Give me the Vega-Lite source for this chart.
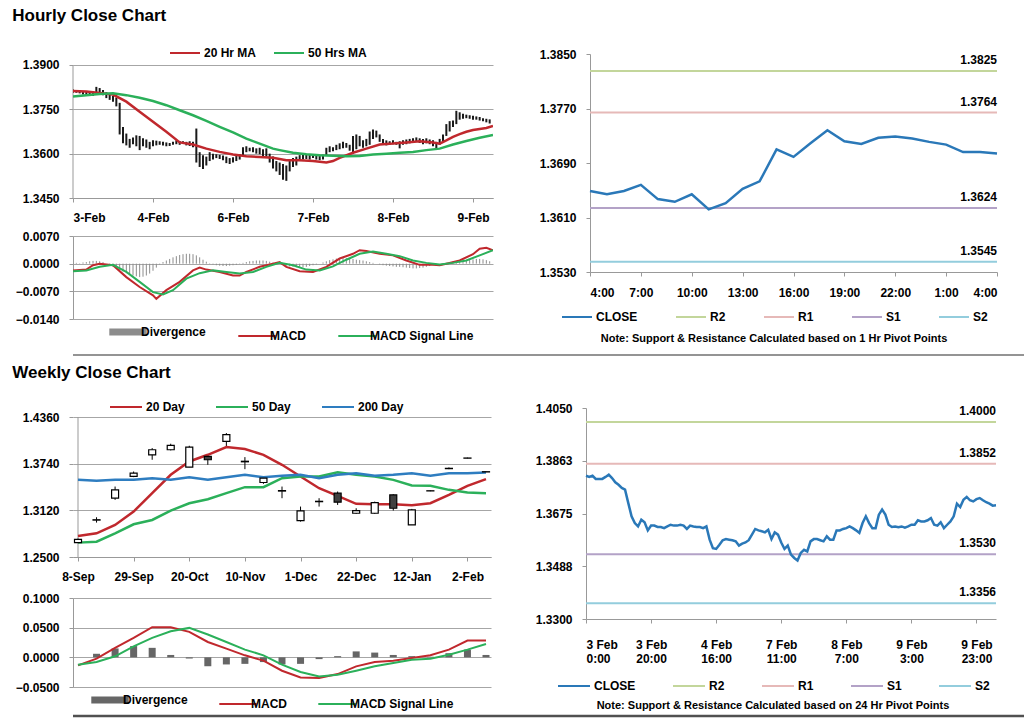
{
"$schema": "https://vega.github.io/schema/vega-lite/v6.json",
"background": "white",
"padding": {"left": 12, "top": 7, "right": 0, "bottom": 0},
"config": {
  "font": "Liberation Sans",
  "view": {"stroke": null},
  "axis": {"labelFont": "Liberation Sans", "labelFontSize": 12, "labelFontWeight": "bold", "labelColor": "#000000", "domainColor": "#999999", "tickColor": "#999999", "gridColor": "#a6a6a6", "tickSize": 4, "labelPadding": 10, "title": null},
  "legend": {"labelFont": "Liberation Sans", "labelFontSize": 12, "labelFontWeight": "bold", "labelColor": "#000000", "symbolType": "stroke", "symbolStrokeWidth": 2, "labelOffset": 3},
  "title": {"font": "Liberation Sans", "fontSize": 17, "fontWeight": "bold", "anchor": "start", "color": "#000000"}
},
"resolve": {"scale": {"color": "independent", "x": "independent", "y": "independent"}, "legend": {"color": "independent"}},
"spacing": 8,
"vconcat": [
 {
  "title": {"text": "Hourly Close Chart", "offset": 12, "dx": -3},
  "resolve": {"scale": {"color": "independent", "x": "independent", "y": "independent"}, "legend": {"color": "independent"}},
  "spacing": 46,
  "hconcat": [
   {
    "spacing": 7,
    "resolve": {"scale": {"color": "independent", "x": "independent", "y": "independent"}, "legend": {"color": "independent"}},
    "vconcat": [
     {
      "width": 420, "height": 144,
      "layer": [
       {"data": {"name": "hbars"}, "mark": {"type": "rule", "color": "#1a1a1a", "strokeWidth": 2, "clip": true},
        "encoding": {
         "x": {"field": "i", "type": "quantitative", "scale": {"domain": [0, 126], "nice": false, "zero": false},
               "axis": {"values": [0, 24, 48, 72, 96, 120], "labelExpr": "['3-Feb','4-Feb','6-Feb','7-Feb','8-Feb','9-Feb'][datum.value/24]", "grid": false}},
         "y": {"field": "lo", "type": "quantitative", "scale": {"domain": [1.345, 1.39372], "nice": false, "zero": false},
               "axis": {"values": [1.345, 1.36, 1.375, 1.39], "format": ".4f", "grid": true, "domain": false}},
         "y2": {"field": "hi"}
        }},
       {"data": {"values": [{}]}, "mark": {"type": "rule", "color": "#999999", "strokeWidth": 1},
        "encoding": {"x": {"datum": 0, "type": "quantitative"}, "y": {"datum": 1.345, "type": "quantitative"}, "y2": {"datum": 1.39}}},
       {"data": {"name": "hma"}, "mark": {"type": "line", "strokeWidth": 2.5, "clip": true},
        "encoding": {
         "x": {"field": "i", "type": "quantitative"},
         "y": {"field": "v", "type": "quantitative"},
         "color": {"field": "s", "type": "nominal", "scale": {"domain": ["20 Hr MA", "50 Hrs MA"], "range": ["#c0282d", "#2bb05a"]},
                   "legend": {"orient": "none", "legendX": 96, "legendY": -17, "direction": "horizontal", "title": null, "symbolSize": 900, "columnPadding": 13}}
        }}
      ]
     },
     {
      "width": 420, "height": 83,
      "layer": [
       {"data": {"name": "hbars"}, "mark": {"type": "rule", "strokeWidth": 1, "clip": true},
        "encoding": {
         "x": {"field": "i", "type": "quantitative", "scale": {"domain": [0, 126], "nice": false, "zero": false}, "axis": null},
         "y": {"field": "d", "type": "quantitative", "scale": {"domain": [-0.014, 0.007], "nice": false, "zero": false},
               "axis": {"values": [-0.014, -0.007, 0, 0.007], "format": ".4f", "grid": true, "labelOverlap": false}},
         "y2": {"datum": 0},
         "color": {"datum": "Divergence"}
        }},
       {"data": {"name": "hmacd"}, "mark": {"type": "line", "strokeWidth": 2, "clip": true},
        "encoding": {
         "x": {"field": "i", "type": "quantitative", "axis": null},
         "y": {"field": "v", "type": "quantitative", "axis": {"values": [-0.014, -0.007, 0, 0.007], "format": ".4f", "grid": true, "labelOverlap": false}},
         "color": {"field": "s", "type": "nominal", "scale": {"domain": ["Divergence", "MACD", "MACD Signal Line"], "range": ["#8c8c8c", "#c0282d", "#2bb05a"]},
                   "legend": {"orient": "none", "legendX": 49, "legendY": 90, "direction": "horizontal", "title": null, "symbolSize": 1400, "columnPadding": 28, "labelOffset": 7,
                              "encode": {"symbols": {"update": {"strokeWidth": {"signal": "datum.label === 'Divergence' ? 7 : 2"}}}}}}
        }}
      ]
     }
    ]
   },
   {
    "width": 407, "height": 218,
    "layer": [
     {"data": {"name": "hpv"}, "mark": {"type": "rule", "strokeWidth": 2},
      "encoding": {
       "y": {"field": "v", "type": "quantitative", "scale": {"domain": [1.353, 1.385], "nice": false, "zero": false},
             "axis": {"values": [1.353, 1.361, 1.369, 1.377, 1.385], "format": ".4f", "grid": false}},
       "color": {"field": "name", "type": "nominal", "scale": {"domain": ["CLOSE", "R2", "R1", "S1", "S2"], "range": ["#2a78b8", "#c3d69b", "#e6b9b8", "#b3a2c7", "#93cddd"]},
                 "legend": {"orient": "none", "legendX": -29, "legendY": 247, "direction": "horizontal", "symbolSize": 900, "columnPadding": 34,
                            "title": "Note: Support & Resistance Calculated based on 1 Hr Pivot Points", "titleOrient": "bottom", "titleAnchor": "middle", "titleLimit": 1000,
                            "titleFontSize": 11, "titleFontWeight": "bold", "titleFont": "Liberation Sans", "titleColor": "#000000", "titlePadding": 10}}
      }},
     {"data": {"name": "hclose"}, "mark": {"type": "line", "strokeWidth": 2.5},
      "encoding": {
       "x": {"field": "t", "type": "temporal",
             "scale": {"domain": [{"year": 2014, "month": 2, "date": 9, "hours": 4}, {"year": 2014, "month": 2, "date": 10, "hours": 4}], "nice": false},
             "axis": {"values": [{"year": 2014, "month": 2, "date": 9, "hours": 4}, {"year": 2014, "month": 2, "date": 9, "hours": 7}, {"year": 2014, "month": 2, "date": 9, "hours": 10}, {"year": 2014, "month": 2, "date": 9, "hours": 13}, {"year": 2014, "month": 2, "date": 9, "hours": 16}, {"year": 2014, "month": 2, "date": 9, "hours": 19}, {"year": 2014, "month": 2, "date": 9, "hours": 22}, {"year": 2014, "month": 2, "date": 10, "hours": 1}, {"year": 2014, "month": 2, "date": 10, "hours": 4}],
                      "format": "%-H:%M", "grid": false, "labelPadding": 11}},
       "y": {"field": "v", "type": "quantitative"},
       "color": {"datum": "CLOSE"}
      }},
     {"data": {"name": "hpv"}, "mark": {"type": "text", "align": "right", "baseline": "bottom", "dy": -4, "fontWeight": "bold", "fontSize": 12, "font": "Liberation Sans", "color": "#000000"},
      "encoding": {
       "x": {"datum": {"year": 2014, "month": 2, "date": 10, "hours": 4}, "type": "temporal"},
       "y": {"field": "v", "type": "quantitative"},
       "text": {"field": "v", "type": "quantitative", "format": ".4f"}
      }}
    ]
   }
  ]
 },
 {
  "width": 1012, "height": 1,
  "data": {"values": [{}]},
  "mark": {"type": "rule", "color": "#707070", "strokeWidth": 1.5},
  "encoding": {"y": {"datum": 0, "type": "quantitative", "scale": {"domain": [0, 1]}, "axis": null}}
 },
 {
  "spacing": 0,
  "resolve": {"scale": {"color": "independent", "x": "independent", "y": "independent"}, "legend": {"color": "independent"}},
  "vconcat": [
   {
    "title": {"text": "Weekly Close Chart", "offset": 8, "dx": -3},
    "resolve": {"scale": {"color": "independent", "x": "independent", "y": "independent"}, "legend": {"color": "independent"}},
    "spacing": 44,
    "hconcat": [
     {
      "spacing": 10,
      "resolve": {"scale": {"color": "independent", "x": "independent", "y": "independent"}, "legend": {"color": "independent"}},
      "vconcat": [
       {
        "width": 418, "height": 149,
        "layer": [
         {"data": {"name": "wk"}, "mark": {"type": "rule", "color": "#000000", "strokeWidth": 1, "clip": true},
          "encoding": {
           "x": {"field": "d", "type": "temporal",
                 "scale": {"domain": [{"year": 2013, "month": 9, "date": 8}, {"year": 2014, "month": 2, "date": 9}], "nice": false},
                 "axis": {"values": [{"year": 2013, "month": 9, "date": 8}, {"year": 2013, "month": 9, "date": 29}, {"year": 2013, "month": 10, "date": 20}, {"year": 2013, "month": 11, "date": 10}, {"year": 2013, "month": 12, "date": 1}, {"year": 2013, "month": 12, "date": 22}, {"year": 2014, "month": 1, "date": 12}, {"year": 2014, "month": 2, "date": 2}],
                          "format": "%-d-%b", "grid": false, "labelPadding": 10}},
           "y": {"field": "l", "type": "quantitative", "scale": {"domain": [1.25, 1.44796], "nice": false, "zero": false},
                 "axis": {"values": [1.25, 1.312, 1.374, 1.436], "format": ".4f", "grid": true, "domain": false}},
           "y2": {"field": "h"}
          }},
         {"data": {"values": [{}]}, "mark": {"type": "rule", "color": "#999999", "strokeWidth": 1},
          "encoding": {"x": {"datum": {"year": 2013, "month": 9, "date": 8}, "type": "temporal"}, "y": {"datum": 1.25, "type": "quantitative"}, "y2": {"datum": 1.436}}},
         {"data": {"name": "wma"}, "mark": {"type": "line", "strokeWidth": 2.5, "clip": true},
          "encoding": {
           "x": {"field": "d", "type": "temporal"},
           "y": {"field": "v", "type": "quantitative"},
           "color": {"field": "s", "type": "nominal", "scale": {"domain": ["20 Day", "50 Day", "200 Day"], "range": ["#c0282d", "#2bb05a", "#2e7dc0"]},
                     "legend": {"orient": "none", "legendX": 36, "legendY": -18, "direction": "horizontal", "title": null, "symbolSize": 1024, "columnPadding": 27}}
          }},
         {"data": {"name": "wk"}, "mark": {"type": "bar", "size": 7, "stroke": "#000000", "strokeWidth": 1.2, "clip": true},
          "encoding": {
           "x": {"field": "d", "type": "temporal"},
           "y": {"field": "o", "type": "quantitative"},
           "y2": {"field": "c"},
           "fill": {"condition": {"test": "datum.c < datum.o", "value": "#404040"}, "value": "#ffffff"}
          }}
        ]
       },
       {
        "width": 418, "height": 89,
        "layer": [
         {"data": {"name": "wk"}, "mark": {"type": "bar", "size": 7, "clip": true},
          "encoding": {
           "x": {"field": "d", "type": "temporal", "scale": {"domain": [{"year": 2013, "month": 9, "date": 8}, {"year": 2014, "month": 2, "date": 9}], "nice": false}, "axis": null},
           "y": {"field": "dv", "type": "quantitative", "scale": {"domain": [-0.05, 0.1], "nice": false, "zero": false},
                 "axis": {"values": [-0.05, 0, 0.05, 0.1], "format": ".4f", "grid": true, "labelOverlap": false}},
           "y2": {"datum": 0},
           "color": {"datum": "Divergence"}
          }},
         {"data": {"name": "wmacd"}, "mark": {"type": "line", "strokeWidth": 2, "clip": true},
          "encoding": {
           "x": {"field": "d", "type": "temporal", "axis": null},
           "y": {"field": "v", "type": "quantitative", "axis": {"values": [-0.05, 0, 0.05, 0.1], "format": ".4f", "grid": true, "labelOverlap": false}},
           "color": {"field": "s", "type": "nominal", "scale": {"domain": ["Divergence", "MACD", "MACD Signal Line"], "range": ["#666666", "#c0282d", "#2bb05a"]},
                     "legend": {"orient": "none", "legendX": 31, "legendY": 96, "direction": "horizontal", "title": null, "symbolSize": 1400, "columnPadding": 27, "labelOffset": 7,
                                "encode": {"symbols": {"update": {"strokeWidth": {"signal": "datum.label === 'Divergence' ? 7 : 2"}}}}}}
          }}
        ]
       }
      ]
     },
     {
      "width": 410, "height": 211,
      "layer": [
       {"data": {"name": "wpv"}, "mark": {"type": "rule", "strokeWidth": 2},
        "encoding": {
         "y": {"field": "v", "type": "quantitative", "scale": {"domain": [1.33, 1.405], "nice": false, "zero": false},
               "axis": {"values": [1.33, 1.3488, 1.3675, 1.3863, 1.405], "format": ".4f", "grid": false}},
         "color": {"field": "name", "type": "nominal", "scale": {"domain": ["CLOSE", "R2", "R1", "S1", "S2"], "range": ["#2a78b8", "#c3d69b", "#e6b9b8", "#b3a2c7", "#93cddd"]},
                   "legend": {"orient": "none", "legendX": -29, "legendY": 261, "direction": "horizontal", "symbolSize": 1024, "columnPadding": 33,
                              "title": "Note: Support & Resistance Calculated based on 24 Hr Pivot Points", "titleOrient": "bottom", "titleAnchor": "middle", "titleLimit": 1000,
                              "titleFontSize": 11, "titleFontWeight": "bold", "titleFont": "Liberation Sans", "titleColor": "#000000", "titlePadding": 8}}
        }},
       {"data": {"name": "wclose"}, "mark": {"type": "line", "strokeWidth": 2.5},
        "encoding": {
         "x": {"field": "n", "type": "quantitative", "scale": {"domain": [0, 126], "nice": false, "zero": false},
               "axis": {"values": [0, 20, 40, 60, 80, 100, 120], "labelExpr": "[['3 Feb','0:00'],['3 Feb','20:00'],['4 Feb','16:00'],['7 Feb','11:00'],['8 Feb','7:00'],['9 Feb','3:00'],['9 Feb','23:00']][datum.value/20]", "grid": false, "labelPadding": 16, "labelLineHeight": 14}},
         "y": {"field": "v", "type": "quantitative"},
         "color": {"datum": "CLOSE"}
        }},
       {"data": {"name": "wpv"}, "mark": {"type": "text", "align": "right", "baseline": "bottom", "dy": -4, "fontWeight": "bold", "fontSize": 12, "font": "Liberation Sans", "color": "#000000"},
        "encoding": {
         "x": {"datum": 126, "type": "quantitative"},
         "y": {"field": "v", "type": "quantitative"},
         "text": {"field": "v", "type": "quantitative", "format": ".4f"}
        }}
      ]
     }
    ]
   },
   {
    "width": 1012, "height": 1,
    "data": {"values": [{}]},
    "mark": {"type": "rule", "color": "#505050", "strokeWidth": 2.5},
    "encoding": {"y": {"datum": 0, "type": "quantitative", "scale": {"domain": [0, 1]}, "axis": null}}
   }
  ]
 }
],
"datasets": {
 "hbars": [
  {"i":0,"hi":1.3818,"lo":1.3805,"d":0.0002},{"i":1,"hi":1.3815,"lo":1.3806,"d":0.0002},{"i":2,"hi":1.3814,"lo":1.3804,"d":0.0001},{"i":3,"hi":1.3812,"lo":1.38,"d":0.0003},
  {"i":4,"hi":1.381,"lo":1.3796,"d":0.0004},{"i":5,"hi":1.3808,"lo":1.3798,"d":0.0006},{"i":6,"hi":1.381,"lo":1.3795,"d":0.0007},{"i":7,"hi":1.3826,"lo":1.3806,"d":0.0007},
  {"i":8,"hi":1.3822,"lo":1.3805,"d":0.0006},{"i":9,"hi":1.3815,"lo":1.3798,"d":0.0004},{"i":10,"hi":1.3808,"lo":1.3788,"d":0.0},{"i":11,"hi":1.38,"lo":1.3782,"d":-0.0004},
  {"i":12,"hi":1.3795,"lo":1.3776,"d":-0.0008},{"i":13,"hi":1.379,"lo":1.376,"d":-0.0012},{"i":14,"hi":1.3772,"lo":1.3665,"d":-0.0016},{"i":15,"hi":1.369,"lo":1.3635,"d":-0.002},
  {"i":16,"hi":1.3668,"lo":1.3628,"d":-0.0024},{"i":17,"hi":1.365,"lo":1.362,"d":-0.0027},{"i":18,"hi":1.3655,"lo":1.3632,"d":-0.003},{"i":19,"hi":1.3662,"lo":1.3625,"d":-0.0032},
  {"i":20,"hi":1.366,"lo":1.3612,"d":-0.0034},{"i":21,"hi":1.3652,"lo":1.3625,"d":-0.0033},{"i":22,"hi":1.3648,"lo":1.362,"d":-0.003},{"i":23,"hi":1.364,"lo":1.3615,"d":-0.0025},
  {"i":24,"hi":1.3645,"lo":1.3625,"d":-0.0018},{"i":25,"hi":1.3644,"lo":1.3628,"d":-0.001},{"i":26,"hi":1.3642,"lo":1.363,"d":-0.0002},{"i":27,"hi":1.364,"lo":1.3628,"d":0.0004},
  {"i":28,"hi":1.3638,"lo":1.3625,"d":0.0008},{"i":29,"hi":1.3636,"lo":1.3626,"d":0.0012},{"i":30,"hi":1.364,"lo":1.363,"d":0.0016},{"i":31,"hi":1.3645,"lo":1.3632,"d":0.0019},
  {"i":32,"hi":1.3643,"lo":1.363,"d":0.0022},{"i":33,"hi":1.3642,"lo":1.3633,"d":0.0024},{"i":34,"hi":1.364,"lo":1.3628,"d":0.0025},{"i":35,"hi":1.3642,"lo":1.3626,"d":0.0025},
  {"i":36,"hi":1.364,"lo":1.3622,"d":0.0024},{"i":37,"hi":1.3685,"lo":1.357,"d":0.0021},{"i":38,"hi":1.3605,"lo":1.3555,"d":0.0016},{"i":39,"hi":1.3595,"lo":1.3548,"d":0.001},
  {"i":40,"hi":1.359,"lo":1.356,"d":0.0005},{"i":41,"hi":1.3605,"lo":1.3575,"d":0.0001},{"i":42,"hi":1.36,"lo":1.358,"d":-0.0002},{"i":43,"hi":1.3598,"lo":1.3585,"d":-0.0004},
  {"i":44,"hi":1.3596,"lo":1.3582,"d":-0.0005},{"i":45,"hi":1.3594,"lo":1.3578,"d":-0.0006},{"i":46,"hi":1.359,"lo":1.3568,"d":-0.0006},{"i":47,"hi":1.3585,"lo":1.3565,"d":-0.0005},
  {"i":48,"hi":1.3588,"lo":1.357,"d":-0.0004},{"i":49,"hi":1.3592,"lo":1.3575,"d":-0.0003},{"i":50,"hi":1.3598,"lo":1.358,"d":-0.0001},{"i":51,"hi":1.3622,"lo":1.359,"d":0.0002},
  {"i":52,"hi":1.3625,"lo":1.3605,"d":0.0004},{"i":53,"hi":1.362,"lo":1.3608,"d":0.0006},{"i":54,"hi":1.3622,"lo":1.3605,"d":0.0007},{"i":55,"hi":1.3618,"lo":1.36,"d":0.0008},
  {"i":56,"hi":1.362,"lo":1.3598,"d":0.0008},{"i":57,"hi":1.3615,"lo":1.3592,"d":0.0008},{"i":58,"hi":1.3618,"lo":1.359,"d":0.0007},{"i":59,"hi":1.36,"lo":1.357,"d":0.0005},
  {"i":60,"hi":1.359,"lo":1.355,"d":0.0003},{"i":61,"hi":1.3575,"lo":1.354,"d":0.0001},{"i":62,"hi":1.357,"lo":1.3528,"d":0.0},{"i":63,"hi":1.3565,"lo":1.3512,"d":-0.0003},
  {"i":64,"hi":1.356,"lo":1.3508,"d":-0.0005},{"i":65,"hi":1.3575,"lo":1.354,"d":-0.0007},{"i":66,"hi":1.3585,"lo":1.3555,"d":-0.0008},{"i":67,"hi":1.359,"lo":1.356,"d":-0.0009},
  {"i":68,"hi":1.3595,"lo":1.3575,"d":-0.001},{"i":69,"hi":1.36,"lo":1.358,"d":-0.0009},{"i":70,"hi":1.3598,"lo":1.3582,"d":-0.0008},{"i":71,"hi":1.3596,"lo":1.358,"d":-0.0006},
  {"i":72,"hi":1.3598,"lo":1.3585,"d":-0.0004},{"i":73,"hi":1.3594,"lo":1.358,"d":-0.0002},{"i":74,"hi":1.3592,"lo":1.3578,"d":0.0},{"i":75,"hi":1.3596,"lo":1.358,"d":0.0003},
  {"i":76,"hi":1.362,"lo":1.3595,"d":0.0006},{"i":77,"hi":1.3625,"lo":1.3605,"d":0.0009},{"i":78,"hi":1.3622,"lo":1.3608,"d":0.0011},{"i":79,"hi":1.363,"lo":1.3612,"d":0.0013},
  {"i":80,"hi":1.3635,"lo":1.3615,"d":0.0014},{"i":81,"hi":1.364,"lo":1.3618,"d":0.0015},{"i":82,"hi":1.3636,"lo":1.362,"d":0.0014},{"i":83,"hi":1.363,"lo":1.361,"d":0.0013},
  {"i":84,"hi":1.366,"lo":1.36,"d":0.0012},{"i":85,"hi":1.3665,"lo":1.3615,"d":0.001},{"i":86,"hi":1.366,"lo":1.3625,"d":0.0009},{"i":87,"hi":1.3645,"lo":1.362,"d":0.0008},
  {"i":88,"hi":1.365,"lo":1.3625,"d":0.0006},{"i":89,"hi":1.3675,"lo":1.363,"d":0.0004},{"i":90,"hi":1.3682,"lo":1.365,"d":0.0002},{"i":91,"hi":1.3678,"lo":1.3655,"d":0.0},
  {"i":92,"hi":1.3665,"lo":1.364,"d":-0.0002},{"i":93,"hi":1.365,"lo":1.363,"d":-0.0004},{"i":94,"hi":1.3645,"lo":1.3628,"d":-0.0005},{"i":95,"hi":1.3642,"lo":1.363,"d":-0.0006},
  {"i":96,"hi":1.3645,"lo":1.3632,"d":-0.0007},{"i":97,"hi":1.364,"lo":1.363,"d":-0.0008},{"i":98,"hi":1.3642,"lo":1.3618,"d":-0.0008},{"i":99,"hi":1.3645,"lo":1.363,"d":-0.0009},
  {"i":100,"hi":1.3648,"lo":1.3632,"d":-0.001},{"i":101,"hi":1.365,"lo":1.3635,"d":-0.0011},{"i":102,"hi":1.3652,"lo":1.3638,"d":-0.0012},{"i":103,"hi":1.3655,"lo":1.364,"d":-0.0012},
  {"i":104,"hi":1.3652,"lo":1.3636,"d":-0.0011},{"i":105,"hi":1.365,"lo":1.3632,"d":-0.001},{"i":106,"hi":1.3652,"lo":1.3635,"d":-0.0008},{"i":107,"hi":1.3648,"lo":1.3632,"d":-0.0006},
  {"i":108,"hi":1.3645,"lo":1.3625,"d":-0.0004},{"i":109,"hi":1.364,"lo":1.3618,"d":-0.0002},{"i":110,"hi":1.365,"lo":1.363,"d":0.0},{"i":111,"hi":1.3665,"lo":1.364,"d":0.0001},
  {"i":112,"hi":1.37,"lo":1.366,"d":0.0002},{"i":113,"hi":1.371,"lo":1.3675,"d":0.0004},{"i":114,"hi":1.3712,"lo":1.369,"d":0.0005},{"i":115,"hi":1.3745,"lo":1.37,"d":0.0006},
  {"i":116,"hi":1.374,"lo":1.3715,"d":0.0007},{"i":117,"hi":1.3735,"lo":1.3718,"d":0.0008},{"i":118,"hi":1.3732,"lo":1.372,"d":0.0009},{"i":119,"hi":1.373,"lo":1.3718,"d":0.001},
  {"i":120,"hi":1.3728,"lo":1.3715,"d":0.0011},{"i":121,"hi":1.3726,"lo":1.3715,"d":0.0012},{"i":122,"hi":1.3724,"lo":1.3712,"d":0.0012},{"i":123,"hi":1.372,"lo":1.371,"d":0.0011},
  {"i":124,"hi":1.3718,"lo":1.3706,"d":0.0009},{"i":125,"hi":1.3716,"lo":1.3702,"d":0.0006}
 ],
 "hma": [
  {"i":0,"s":"20 Hr MA","v":1.3812},{"i":4,"s":"20 Hr MA","v":1.381},{"i":8,"s":"20 Hr MA","v":1.3805},{"i":12,"s":"20 Hr MA","v":1.38},{"i":16,"s":"20 Hr MA","v":1.3776},{"i":20,"s":"20 Hr MA","v":1.3742},{"i":24,"s":"20 Hr MA","v":1.3708},{"i":28,"s":"20 Hr MA","v":1.3674},{"i":32,"s":"20 Hr MA","v":1.3638},{"i":36,"s":"20 Hr MA","v":1.3631},{"i":40,"s":"20 Hr MA","v":1.3617},{"i":44,"s":"20 Hr MA","v":1.3606},{"i":48,"s":"20 Hr MA","v":1.3597},{"i":52,"s":"20 Hr MA","v":1.3591},{"i":56,"s":"20 Hr MA","v":1.3589},{"i":60,"s":"20 Hr MA","v":1.3586},{"i":64,"s":"20 Hr MA","v":1.3578},{"i":68,"s":"20 Hr MA","v":1.3578},{"i":72,"s":"20 Hr MA","v":1.3575},{"i":76,"s":"20 Hr MA","v":1.357},{"i":78,"s":"20 Hr MA","v":1.3575},{"i":80,"s":"20 Hr MA","v":1.3586},{"i":84,"s":"20 Hr MA","v":1.3603},{"i":88,"s":"20 Hr MA","v":1.3617},{"i":92,"s":"20 Hr MA","v":1.3631},{"i":96,"s":"20 Hr MA","v":1.3634},{"i":100,"s":"20 Hr MA","v":1.3638},{"i":104,"s":"20 Hr MA","v":1.3642},{"i":108,"s":"20 Hr MA","v":1.3638},{"i":110,"s":"20 Hr MA","v":1.3634},{"i":112,"s":"20 Hr MA","v":1.3645},{"i":114,"s":"20 Hr MA","v":1.3657},{"i":116,"s":"20 Hr MA","v":1.3666},{"i":118,"s":"20 Hr MA","v":1.3674},{"i":120,"s":"20 Hr MA","v":1.368},{"i":124,"s":"20 Hr MA","v":1.3687},{"i":126,"s":"20 Hr MA","v":1.3694},
  {"i":0,"s":"50 Hrs MA","v":1.3793},{"i":4,"s":"50 Hrs MA","v":1.3798},{"i":8,"s":"50 Hrs MA","v":1.3802},{"i":12,"s":"50 Hrs MA","v":1.3804},{"i":16,"s":"50 Hrs MA","v":1.3798},{"i":20,"s":"50 Hrs MA","v":1.3789},{"i":24,"s":"50 Hrs MA","v":1.3778},{"i":28,"s":"50 Hrs MA","v":1.3764},{"i":32,"s":"50 Hrs MA","v":1.3747},{"i":36,"s":"50 Hrs MA","v":1.373},{"i":40,"s":"50 Hrs MA","v":1.3711},{"i":44,"s":"50 Hrs MA","v":1.3691},{"i":48,"s":"50 Hrs MA","v":1.3672},{"i":52,"s":"50 Hrs MA","v":1.3651},{"i":56,"s":"50 Hrs MA","v":1.3634},{"i":60,"s":"50 Hrs MA","v":1.3617},{"i":62,"s":"50 Hrs MA","v":1.3612},{"i":66,"s":"50 Hrs MA","v":1.3603},{"i":70,"s":"50 Hrs MA","v":1.3598},{"i":74,"s":"50 Hrs MA","v":1.3595},{"i":78,"s":"50 Hrs MA","v":1.3593},{"i":82,"s":"50 Hrs MA","v":1.3591},{"i":86,"s":"50 Hrs MA","v":1.3592},{"i":90,"s":"50 Hrs MA","v":1.3597},{"i":94,"s":"50 Hrs MA","v":1.36},{"i":98,"s":"50 Hrs MA","v":1.3603},{"i":102,"s":"50 Hrs MA","v":1.3606},{"i":106,"s":"50 Hrs MA","v":1.3612},{"i":110,"s":"50 Hrs MA","v":1.3617},{"i":114,"s":"50 Hrs MA","v":1.3631},{"i":118,"s":"50 Hrs MA","v":1.3643},{"i":122,"s":"50 Hrs MA","v":1.3654},{"i":126,"s":"50 Hrs MA","v":1.3663}
 ],
 "hmacd": [
  {"i":0,"s":"MACD","v":-0.0017},{"i":4,"s":"MACD","v":-0.0015},{"i":6,"s":"MACD","v":-0.0004},{"i":8,"s":"MACD","v":0.0},{"i":12,"s":"MACD","v":-0.0004},{"i":16,"s":"MACD","v":-0.0034},{"i":20,"s":"MACD","v":-0.0059},{"i":24,"s":"MACD","v":-0.008},{"i":25,"s":"MACD","v":-0.0089},{"i":28,"s":"MACD","v":-0.0067},{"i":32,"s":"MACD","v":-0.0046},{"i":36,"s":"MACD","v":-0.0017},{"i":38,"s":"MACD","v":-0.001},{"i":40,"s":"MACD","v":-0.0015},{"i":44,"s":"MACD","v":-0.0021},{"i":48,"s":"MACD","v":-0.003},{"i":50,"s":"MACD","v":-0.003},{"i":52,"s":"MACD","v":-0.0021},{"i":56,"s":"MACD","v":-0.0008},{"i":60,"s":"MACD","v":0.0},{"i":62,"s":"MACD","v":0.0004},{"i":64,"s":"MACD","v":-0.0008},{"i":68,"s":"MACD","v":-0.0019},{"i":72,"s":"MACD","v":-0.0021},{"i":76,"s":"MACD","v":-0.0008},{"i":80,"s":"MACD","v":0.0013},{"i":84,"s":"MACD","v":0.0025},{"i":86,"s":"MACD","v":0.0034},{"i":88,"s":"MACD","v":0.0032},{"i":92,"s":"MACD","v":0.0025},{"i":96,"s":"MACD","v":0.0021},{"i":100,"s":"MACD","v":0.0008},{"i":104,"s":"MACD","v":-0.0003},{"i":108,"s":"MACD","v":-0.0003},{"i":110,"s":"MACD","v":-0.0004},{"i":112,"s":"MACD","v":0.0},{"i":116,"s":"MACD","v":0.0008},{"i":120,"s":"MACD","v":0.0024},{"i":122,"s":"MACD","v":0.0038},{"i":124,"s":"MACD","v":0.004},{"i":126,"s":"MACD","v":0.0034},
  {"i":0,"s":"MACD Signal Line","v":-0.0019},{"i":4,"s":"MACD Signal Line","v":-0.0017},{"i":8,"s":"MACD Signal Line","v":-0.0008},{"i":12,"s":"MACD Signal Line","v":-0.0003},{"i":16,"s":"MACD Signal Line","v":-0.0021},{"i":20,"s":"MACD Signal Line","v":-0.0046},{"i":24,"s":"MACD Signal Line","v":-0.0072},{"i":27,"s":"MACD Signal Line","v":-0.0078},{"i":30,"s":"MACD Signal Line","v":-0.0067},{"i":34,"s":"MACD Signal Line","v":-0.0038},{"i":38,"s":"MACD Signal Line","v":-0.0024},{"i":42,"s":"MACD Signal Line","v":-0.0017},{"i":46,"s":"MACD Signal Line","v":-0.0021},{"i":50,"s":"MACD Signal Line","v":-0.0025},{"i":54,"s":"MACD Signal Line","v":-0.0021},{"i":58,"s":"MACD Signal Line","v":-0.0008},{"i":62,"s":"MACD Signal Line","v":0.0002},{"i":66,"s":"MACD Signal Line","v":-0.0004},{"i":70,"s":"MACD Signal Line","v":-0.0015},{"i":74,"s":"MACD Signal Line","v":-0.0017},{"i":78,"s":"MACD Signal Line","v":-0.0007},{"i":82,"s":"MACD Signal Line","v":0.001},{"i":86,"s":"MACD Signal Line","v":0.0025},{"i":90,"s":"MACD Signal Line","v":0.0031},{"i":94,"s":"MACD Signal Line","v":0.0025},{"i":98,"s":"MACD Signal Line","v":0.0019},{"i":102,"s":"MACD Signal Line","v":0.0008},{"i":106,"s":"MACD Signal Line","v":0.0002},{"i":110,"s":"MACD Signal Line","v":-0.0002},{"i":114,"s":"MACD Signal Line","v":0.0002},{"i":118,"s":"MACD Signal Line","v":0.0008},{"i":122,"s":"MACD Signal Line","v":0.0021},{"i":126,"s":"MACD Signal Line","v":0.0034}
 ],
 "hpv": [{"name":"R2","v":1.3825},{"name":"R1","v":1.3764},{"name":"S1","v":1.3624},{"name":"S2","v":1.3545}],
 "hclose": [
  {"t":"2014-02-09T04:00:00","v":1.3649},{"t":"2014-02-09T05:00:00","v":1.3644},{"t":"2014-02-09T06:00:00","v":1.3649},{"t":"2014-02-09T07:00:00","v":1.3658},{"t":"2014-02-09T08:00:00","v":1.3637},{"t":"2014-02-09T09:00:00","v":1.3633},{"t":"2014-02-09T10:00:00","v":1.3644},{"t":"2014-02-09T11:00:00","v":1.3622},{"t":"2014-02-09T12:00:00","v":1.3631},{"t":"2014-02-09T13:00:00","v":1.3652},{"t":"2014-02-09T14:00:00","v":1.3663},{"t":"2014-02-09T15:00:00","v":1.371},{"t":"2014-02-09T16:00:00","v":1.3699},{"t":"2014-02-09T17:00:00","v":1.3719},{"t":"2014-02-09T18:00:00","v":1.3738},{"t":"2014-02-09T19:00:00","v":1.3722},{"t":"2014-02-09T20:00:00","v":1.3718},{"t":"2014-02-09T21:00:00","v":1.3727},{"t":"2014-02-09T22:00:00","v":1.3729},{"t":"2014-02-09T23:00:00","v":1.3726},{"t":"2014-02-10T00:00:00","v":1.3721},{"t":"2014-02-10T01:00:00","v":1.3717},{"t":"2014-02-10T02:00:00","v":1.3706},{"t":"2014-02-10T03:00:00","v":1.3706},{"t":"2014-02-10T04:00:00","v":1.3704}
 ],
 "wk": [
  {"d":"2013-09-08T00:00:00","o":1.269,"h":1.2748,"l":1.2685,"c":1.2735,"dv":0.0},
  {"d":"2013-09-15T00:00:00","o":1.299,"h":1.3028,"l":1.2957,"c":1.2995,"dv":0.006},
  {"d":"2013-09-22T00:00:00","o":1.3281,"h":1.3436,"l":1.3259,"c":1.3392,"dv":0.015},
  {"d":"2013-09-29T00:00:00","o":1.357,"h":1.3636,"l":1.3561,"c":1.3614,"dv":0.019},
  {"d":"2013-10-06T00:00:00","o":1.3858,"h":1.3947,"l":1.3792,"c":1.3925,"dv":0.016},
  {"d":"2013-10-13T00:00:00","o":1.3925,"h":1.4005,"l":1.3916,"c":1.3983,"dv":0.004},
  {"d":"2013-10-20T00:00:00","o":1.3694,"h":1.3978,"l":1.3694,"c":1.396,"dv":-0.002},
  {"d":"2013-10-27T00:00:00","o":1.3836,"h":1.3858,"l":1.3725,"c":1.3792,"dv":-0.015},
  {"d":"2013-11-03T00:00:00","o":1.4036,"h":1.4147,"l":1.3969,"c":1.4125,"dv":-0.012},
  {"d":"2013-11-10T00:00:00","o":1.3765,"h":1.3827,"l":1.3667,"c":1.3772,"dv":-0.011},
  {"d":"2013-11-17T00:00:00","o":1.349,"h":1.357,"l":1.3472,"c":1.3548,"dv":-0.008},
  {"d":"2013-11-24T00:00:00","o":1.3376,"h":1.3436,"l":1.3281,"c":1.3382,"dv":-0.012},
  {"d":"2013-12-01T00:00:00","o":1.2984,"h":1.317,"l":1.297,"c":1.3112,"dv":-0.011},
  {"d":"2013-12-08T00:00:00","o":1.3235,"h":1.3281,"l":1.317,"c":1.324,"dv":-0.003},
  {"d":"2013-12-15T00:00:00","o":1.3348,"h":1.337,"l":1.3192,"c":1.3228,"dv":0.002},
  {"d":"2013-12-22T00:00:00","o":1.3081,"h":1.3148,"l":1.3072,"c":1.3117,"dv":0.01},
  {"d":"2013-12-29T00:00:00","o":1.3081,"h":1.3236,"l":1.3072,"c":1.3223,"dv":0.008},
  {"d":"2014-01-05T00:00:00","o":1.3325,"h":1.3334,"l":1.3117,"c":1.3148,"dv":0.004},
  {"d":"2014-01-12T00:00:00","o":1.2926,"h":1.3139,"l":1.2926,"c":1.3126,"dv":0.002},
  {"d":"2014-01-19T00:00:00","o":1.3378,"h":1.3385,"l":1.3374,"c":1.338,"dv":0.001},
  {"d":"2014-01-26T00:00:00","o":1.3674,"h":1.369,"l":1.3667,"c":1.3678,"dv":0.007},
  {"d":"2014-02-02T00:00:00","o":1.3813,"h":1.382,"l":1.381,"c":1.3815,"dv":0.013},
  {"d":"2014-02-09T00:00:00","o":1.363,"h":1.3636,"l":1.3628,"c":1.3633,"dv":0.004}
 ],
 "wma": [
  {"d":"2013-09-08T00:00:00","s":"20 Day","v":1.2779},{"d":"2013-09-15T00:00:00","s":"20 Day","v":1.2815},{"d":"2013-09-22T00:00:00","s":"20 Day","v":1.2926},{"d":"2013-09-29T00:00:00","s":"20 Day","v":1.3104},{"d":"2013-10-06T00:00:00","s":"20 Day","v":1.3348},{"d":"2013-10-13T00:00:00","s":"20 Day","v":1.3592},{"d":"2013-10-20T00:00:00","s":"20 Day","v":1.3769},{"d":"2013-10-27T00:00:00","s":"20 Day","v":1.3858},{"d":"2013-11-03T00:00:00","s":"20 Day","v":1.396},{"d":"2013-11-10T00:00:00","s":"20 Day","v":1.3934},{"d":"2013-11-17T00:00:00","s":"20 Day","v":1.3858},{"d":"2013-11-24T00:00:00","s":"20 Day","v":1.3725},{"d":"2013-12-01T00:00:00","s":"20 Day","v":1.357},{"d":"2013-12-08T00:00:00","s":"20 Day","v":1.3414},{"d":"2013-12-15T00:00:00","s":"20 Day","v":1.3312},{"d":"2013-12-22T00:00:00","s":"20 Day","v":1.3206},{"d":"2013-12-29T00:00:00","s":"20 Day","v":1.3201},{"d":"2014-01-05T00:00:00","s":"20 Day","v":1.3201},{"d":"2014-01-12T00:00:00","s":"20 Day","v":1.3188},{"d":"2014-01-19T00:00:00","s":"20 Day","v":1.3214},{"d":"2014-01-26T00:00:00","s":"20 Day","v":1.3325},{"d":"2014-02-02T00:00:00","s":"20 Day","v":1.3445},{"d":"2014-02-09T00:00:00","s":"20 Day","v":1.3534},
  {"d":"2013-09-08T00:00:00","s":"50 Day","v":1.2691},{"d":"2013-09-15T00:00:00","s":"50 Day","v":1.2704},{"d":"2013-09-22T00:00:00","s":"50 Day","v":1.2815},{"d":"2013-09-29T00:00:00","s":"50 Day","v":1.2935},{"d":"2013-10-06T00:00:00","s":"50 Day","v":1.2992},{"d":"2013-10-13T00:00:00","s":"50 Day","v":1.3117},{"d":"2013-10-20T00:00:00","s":"50 Day","v":1.3214},{"d":"2013-10-27T00:00:00","s":"50 Day","v":1.3268},{"d":"2013-11-03T00:00:00","s":"50 Day","v":1.3348},{"d":"2013-11-10T00:00:00","s":"50 Day","v":1.3428},{"d":"2013-11-17T00:00:00","s":"50 Day","v":1.3428},{"d":"2013-11-24T00:00:00","s":"50 Day","v":1.3547},{"d":"2013-12-01T00:00:00","s":"50 Day","v":1.357},{"d":"2013-12-08T00:00:00","s":"50 Day","v":1.357},{"d":"2013-12-15T00:00:00","s":"50 Day","v":1.3627},{"d":"2013-12-22T00:00:00","s":"50 Day","v":1.3592},{"d":"2013-12-29T00:00:00","s":"50 Day","v":1.357},{"d":"2014-01-05T00:00:00","s":"50 Day","v":1.3525},{"d":"2014-01-12T00:00:00","s":"50 Day","v":1.345},{"d":"2014-01-19T00:00:00","s":"50 Day","v":1.3445},{"d":"2014-01-26T00:00:00","s":"50 Day","v":1.3392},{"d":"2014-02-02T00:00:00","s":"50 Day","v":1.3357},{"d":"2014-02-09T00:00:00","s":"50 Day","v":1.3348},
  {"d":"2013-09-08T00:00:00","s":"200 Day","v":1.3525},{"d":"2013-09-15T00:00:00","s":"200 Day","v":1.3512},{"d":"2013-09-22T00:00:00","s":"200 Day","v":1.3525},{"d":"2013-09-29T00:00:00","s":"200 Day","v":1.3525},{"d":"2013-10-06T00:00:00","s":"200 Day","v":1.3547},{"d":"2013-10-13T00:00:00","s":"200 Day","v":1.3525},{"d":"2013-10-20T00:00:00","s":"200 Day","v":1.3561},{"d":"2013-10-27T00:00:00","s":"200 Day","v":1.3525},{"d":"2013-11-03T00:00:00","s":"200 Day","v":1.3561},{"d":"2013-11-10T00:00:00","s":"200 Day","v":1.3592},{"d":"2013-11-17T00:00:00","s":"200 Day","v":1.3561},{"d":"2013-11-24T00:00:00","s":"200 Day","v":1.3579},{"d":"2013-12-01T00:00:00","s":"200 Day","v":1.3592},{"d":"2013-12-08T00:00:00","s":"200 Day","v":1.3547},{"d":"2013-12-15T00:00:00","s":"200 Day","v":1.3592},{"d":"2013-12-22T00:00:00","s":"200 Day","v":1.3614},{"d":"2013-12-29T00:00:00","s":"200 Day","v":1.3579},{"d":"2014-01-05T00:00:00","s":"200 Day","v":1.3592},{"d":"2014-01-12T00:00:00","s":"200 Day","v":1.3614},{"d":"2014-01-19T00:00:00","s":"200 Day","v":1.3579},{"d":"2014-01-26T00:00:00","s":"200 Day","v":1.3614},{"d":"2014-02-02T00:00:00","s":"200 Day","v":1.3614},{"d":"2014-02-09T00:00:00","s":"200 Day","v":1.3623}
 ],
 "wmacd": [
  {"d":"2013-09-08T00:00:00","s":"MACD","v":-0.0135},{"d":"2013-09-15T00:00:00","s":"MACD","v":-0.0023},{"d":"2013-09-22T00:00:00","s":"MACD","v":0.0158},{"d":"2013-09-29T00:00:00","s":"MACD","v":0.0327},{"d":"2013-10-06T00:00:00","s":"MACD","v":0.0508},{"d":"2013-10-13T00:00:00","s":"MACD","v":0.0508},{"d":"2013-10-20T00:00:00","s":"MACD","v":0.0429},{"d":"2013-10-27T00:00:00","s":"MACD","v":0.0259},{"d":"2013-11-03T00:00:00","s":"MACD","v":0.0147},{"d":"2013-11-10T00:00:00","s":"MACD","v":0.0034},{"d":"2013-11-17T00:00:00","s":"MACD","v":-0.0056},{"d":"2013-11-24T00:00:00","s":"MACD","v":-0.0226},{"d":"2013-12-01T00:00:00","s":"MACD","v":-0.0338},{"d":"2013-12-08T00:00:00","s":"MACD","v":-0.035},{"d":"2013-12-15T00:00:00","s":"MACD","v":-0.0282},{"d":"2013-12-22T00:00:00","s":"MACD","v":-0.0152},{"d":"2013-12-29T00:00:00","s":"MACD","v":-0.0079},{"d":"2014-01-05T00:00:00","s":"MACD","v":-0.0056},{"d":"2014-01-12T00:00:00","s":"MACD","v":-0.0011},{"d":"2014-01-19T00:00:00","s":"MACD","v":0.0034},{"d":"2014-01-26T00:00:00","s":"MACD","v":0.013},{"d":"2014-02-02T00:00:00","s":"MACD","v":0.0282},{"d":"2014-02-09T00:00:00","s":"MACD","v":0.0282},
  {"d":"2013-09-08T00:00:00","s":"MACD Signal Line","v":-0.0124},{"d":"2013-09-15T00:00:00","s":"MACD Signal Line","v":-0.0079},{"d":"2013-09-22T00:00:00","s":"MACD Signal Line","v":0.0017},{"d":"2013-09-29T00:00:00","s":"MACD Signal Line","v":0.0186},{"d":"2013-10-06T00:00:00","s":"MACD Signal Line","v":0.0327},{"d":"2013-10-13T00:00:00","s":"MACD Signal Line","v":0.044},{"d":"2013-10-20T00:00:00","s":"MACD Signal Line","v":0.0496},{"d":"2013-10-27T00:00:00","s":"MACD Signal Line","v":0.0384},{"d":"2013-11-03T00:00:00","s":"MACD Signal Line","v":0.0259},{"d":"2013-11-10T00:00:00","s":"MACD Signal Line","v":0.013},{"d":"2013-11-17T00:00:00","s":"MACD Signal Line","v":0.0034},{"d":"2013-11-24T00:00:00","s":"MACD Signal Line","v":-0.0124},{"d":"2013-12-01T00:00:00","s":"MACD Signal Line","v":-0.0248},{"d":"2013-12-08T00:00:00","s":"MACD Signal Line","v":-0.0321},{"d":"2013-12-15T00:00:00","s":"MACD Signal Line","v":-0.0293},{"d":"2013-12-22T00:00:00","s":"MACD Signal Line","v":-0.0226},{"d":"2013-12-29T00:00:00","s":"MACD Signal Line","v":-0.0152},{"d":"2014-01-05T00:00:00","s":"MACD Signal Line","v":-0.0096},{"d":"2014-01-12T00:00:00","s":"MACD Signal Line","v":-0.0039},{"d":"2014-01-19T00:00:00","s":"MACD Signal Line","v":-0.0023},{"d":"2014-01-26T00:00:00","s":"MACD Signal Line","v":0.0045},{"d":"2014-02-02T00:00:00","s":"MACD Signal Line","v":0.013},{"d":"2014-02-09T00:00:00","s":"MACD Signal Line","v":0.0226}
 ],
 "wpv": [{"name":"R2","v":1.4},{"name":"R1","v":1.3852},{"name":"S1","v":1.353},{"name":"S2","v":1.3356}],
 "wclose": [
  {"n":0,"v":1.3809},{"n":1,"v":1.3805},{"n":2,"v":1.3809},{"n":3,"v":1.3798},{"n":4,"v":1.3798},{"n":5,"v":1.3798},{"n":6,"v":1.3805},{"n":7,"v":1.3813},{"n":8,"v":1.3801},{"n":9,"v":1.3786},
  {"n":10,"v":1.3777},{"n":11,"v":1.3766},{"n":12,"v":1.376},{"n":13,"v":1.3712},{"n":14,"v":1.3665},{"n":15,"v":1.3641},{"n":16,"v":1.3629},{"n":17,"v":1.3653},{"n":18,"v":1.3644},{"n":19,"v":1.3615},
  {"n":20,"v":1.3632},{"n":21,"v":1.3632},{"n":22,"v":1.3627},{"n":23,"v":1.3627},{"n":24,"v":1.3623},{"n":25,"v":1.3629},{"n":26,"v":1.3635},{"n":27,"v":1.3632},{"n":28,"v":1.3632},{"n":29,"v":1.3635},
  {"n":30,"v":1.3632},{"n":31,"v":1.362},{"n":32,"v":1.3632},{"n":33,"v":1.3629},{"n":34,"v":1.3627},{"n":35,"v":1.3627},{"n":36,"v":1.3623},{"n":37,"v":1.3629},{"n":38,"v":1.3582},{"n":39,"v":1.3552},
  {"n":40,"v":1.3549},{"n":41,"v":1.3564},{"n":42,"v":1.358},{"n":43,"v":1.3584},{"n":44,"v":1.3582},{"n":45,"v":1.358},{"n":46,"v":1.3576},{"n":47,"v":1.3561},{"n":48,"v":1.3568},{"n":49,"v":1.3572},
  {"n":50,"v":1.358},{"n":51,"v":1.36},{"n":52,"v":1.362},{"n":53,"v":1.3615},{"n":54,"v":1.3612},{"n":55,"v":1.3608},{"n":56,"v":1.3617},{"n":57,"v":1.3584},{"n":58,"v":1.3608},{"n":59,"v":1.36},
  {"n":60,"v":1.3572},{"n":61,"v":1.3549},{"n":62,"v":1.3561},{"n":63,"v":1.3529},{"n":64,"v":1.3517},{"n":65,"v":1.3508},{"n":66,"v":1.3535},{"n":67,"v":1.3546},{"n":68,"v":1.354},{"n":69,"v":1.3576},
  {"n":70,"v":1.3584},{"n":71,"v":1.3584},{"n":72,"v":1.358},{"n":73,"v":1.3576},{"n":74,"v":1.3594},{"n":75,"v":1.3582},{"n":76,"v":1.3582},{"n":77,"v":1.3615},{"n":78,"v":1.3615},{"n":79,"v":1.362},
  {"n":80,"v":1.3623},{"n":81,"v":1.3629},{"n":82,"v":1.3623},{"n":83,"v":1.3615},{"n":84,"v":1.3606},{"n":85,"v":1.3641},{"n":86,"v":1.3665},{"n":87,"v":1.3641},{"n":88,"v":1.3623},{"n":89,"v":1.3623},
  {"n":90,"v":1.3671},{"n":91,"v":1.3689},{"n":92,"v":1.3671},{"n":93,"v":1.3635},{"n":94,"v":1.3627},{"n":95,"v":1.3629},{"n":96,"v":1.3626},{"n":97,"v":1.3629},{"n":98,"v":1.3625},{"n":99,"v":1.3629},
  {"n":100,"v":1.3635},{"n":101,"v":1.3635},{"n":102,"v":1.3651},{"n":103,"v":1.3647},{"n":104,"v":1.3647},{"n":105,"v":1.3651},{"n":106,"v":1.3659},{"n":107,"v":1.3635},{"n":108,"v":1.3632},{"n":109,"v":1.3644},
  {"n":110,"v":1.3623},{"n":111,"v":1.3635},{"n":112,"v":1.3647},{"n":113,"v":1.3665},{"n":114,"v":1.371},{"n":115,"v":1.3698},{"n":116,"v":1.3724},{"n":117,"v":1.3734},{"n":118,"v":1.3722},{"n":119,"v":1.3718},
  {"n":120,"v":1.3726},{"n":121,"v":1.373},{"n":122,"v":1.3722},{"n":123,"v":1.3715},{"n":124,"v":1.371},{"n":125,"v":1.3703},{"n":126,"v":1.3704}
 ]
}
}
